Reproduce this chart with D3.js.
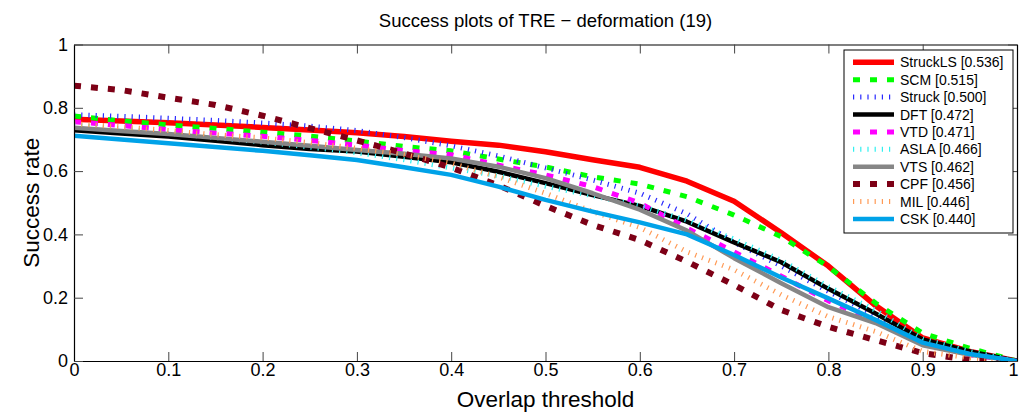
<!DOCTYPE html>
<html>
<head>
<meta charset="utf-8">
<script src="https://cdn.jsdelivr.net/npm/d3@7"></script>
<style>
  html, body { margin: 0; padding: 0; background: #fff; }
  svg { display: block; font-family: "Liberation Sans", Arial, Helvetica, sans-serif; }
</style>
</head>
<body>
<svg id="chart" width="1019" height="416"></svg>
<script>
// ---- data ----
const thresholds = [0, 0.05, 0.1, 0.15, 0.2, 0.25, 0.3, 0.35, 0.4, 0.45, 0.5, 0.55, 0.6, 0.65, 0.7, 0.75, 0.8, 0.85, 0.9, 0.95, 1];
const trackerNames = ["StruckLS [0.536]", "SCM [0.515]", "Struck [0.500]", "DFT [0.472]", "VTD [0.471]", "ASLA [0.466]", "VTS [0.462]", "CPF [0.456]", "MIL [0.446]", "CSK [0.440]"];
const structLS = [0.764, 0.758, 0.753, 0.746, 0.738, 0.730, 0.721, 0.709, 0.694, 0.682, 0.661, 0.636, 0.612, 0.568, 0.505, 0.405, 0.300, 0.175, 0.073, 0.030, 0];
const scm      = [0.774, 0.759, 0.746, 0.735, 0.723, 0.711, 0.695, 0.678, 0.664, 0.638, 0.613, 0.582, 0.559, 0.519, 0.461, 0.393, 0.298, 0.183, 0.088, 0.040, 0];
const struck   = [0.778, 0.773, 0.767, 0.760, 0.752, 0.742, 0.728, 0.706, 0.680, 0.648, 0.610, 0.572, 0.530, 0.465, 0.375, 0.300, 0.220, 0.145, 0.065, 0.025, 0];
const dft      = [0.729, 0.719, 0.709, 0.696, 0.682, 0.670, 0.662, 0.645, 0.628, 0.598, 0.562, 0.524, 0.490, 0.440, 0.375, 0.312, 0.228, 0.150, 0.068, 0.030, 0];
const vtd      = [0.756, 0.744, 0.731, 0.720, 0.710, 0.697, 0.682, 0.665, 0.652, 0.619, 0.588, 0.551, 0.499, 0.420, 0.345, 0.268, 0.190, 0.125, 0.055, 0.020, 0];
const asla     = [0.745, 0.733, 0.720, 0.706, 0.692, 0.676, 0.658, 0.636, 0.610, 0.585, 0.552, 0.522, 0.490, 0.445, 0.385, 0.318, 0.235, 0.160, 0.070, 0.030, 0];
const vts      = [0.737, 0.727, 0.717, 0.705, 0.693, 0.680, 0.667, 0.655, 0.640, 0.614, 0.578, 0.530, 0.478, 0.412, 0.325, 0.246, 0.170, 0.120, 0.050, 0.020, 0];
const cpf      = [0.870, 0.856, 0.832, 0.809, 0.775, 0.736, 0.697, 0.656, 0.611, 0.555, 0.490, 0.430, 0.382, 0.314, 0.240, 0.161, 0.108, 0.066, 0.025, 0.003, 0];
const mil      = [0.750, 0.740, 0.728, 0.715, 0.705, 0.690, 0.672, 0.652, 0.625, 0.582, 0.530, 0.472, 0.422, 0.345, 0.288, 0.209, 0.140, 0.093, 0.030, 0.010, 0];
const csk      = [0.712, 0.700, 0.688, 0.676, 0.664, 0.650, 0.635, 0.612, 0.588, 0.551, 0.509, 0.472, 0.438, 0.400, 0.335, 0.264, 0.198, 0.130, 0.058, 0.022, 0];
const seriesValues = [structLS, scm, struck, dft, vtd, asla, vts, cpf, mil, csk];
const xTicks = [0, 0.1, 0.2, 0.3, 0.4, 0.5, 0.6, 0.7, 0.8, 0.9, 1];
const yTicks = [0, 0.2, 0.4, 0.6, 0.8, 1];
const titleText = "Success plots of TRE \u2212 deformation (19)";
const xLabel = "Overlap threshold";
const yLabel = "Success rate";

// ---- styles ----
const styles = [
  { color: "#ff0000", width: 5.5, dash: null },
  { color: "#00ff00", width: 5,   dash: "7,10" },
  { color: "#2a2aff", width: 5,   dash: "1.2,6" },
  { color: "#000000", width: 4.5, dash: null },
  { color: "#ff00ff", width: 5,   dash: "7,10" },
  { color: "#30f0f0", width: 5,   dash: "1.2,6" },
  { color: "#868686", width: 4.5, dash: null },
  { color: "#7d0016", width: 6,   dash: "7,10" },
  { color: "#ff9a55", width: 5,   dash: "1.2,6" },
  { color: "#00a2e8", width: 4.5, dash: null }
];

(function () {
const svg = d3.select("#chart");
const pL = 74, pR = 1017, pT = 44.5, pB = 361;
const x = d3.scaleLinear().domain([0, 1]).range([pL, pR]);
const y = d3.scaleLinear().domain([0, 1]).range([pB, pT]);

const fmt = d => (d === 0 ? "0" : d === 1 ? "1" : d3.format(".1f")(d));

svg.append("clipPath").attr("id", "clip").append("rect")
  .attr("x", pL).attr("y", pT).attr("width", pR - pL).attr("height", pB - pT);

const line = d3.line().x((d, i) => x(thresholds[i])).y(d => y(d));
const g = svg.append("g").attr("clip-path", "url(#clip)");
seriesValues.forEach((vals, i) => {
  const s = styles[i];
  g.append("path")
    .attr("d", line(vals))
    .attr("fill", "none")
    .attr("stroke", s.color)
    .attr("stroke-width", s.width)
    .attr("stroke-dasharray", s.dash)
    .attr("stroke-linejoin", "round");
});

const tickLen = 9;
const axB = svg.append("g").attr("transform", `translate(0,${pB})`)
  .call(d3.axisBottom(x).tickValues(xTicks).tickFormat(fmt).tickSizeInner(-tickLen).tickSizeOuter(0).tickPadding(2));
const axT = svg.append("g").attr("transform", `translate(0,${pT})`)
  .call(d3.axisTop(x).tickValues(xTicks).tickFormat("").tickSizeInner(-tickLen).tickSizeOuter(0));
const axL = svg.append("g").attr("transform", `translate(${pL},0)`)
  .call(d3.axisLeft(y).tickValues(yTicks).tickFormat(fmt).tickSizeInner(-tickLen).tickSizeOuter(0).tickPadding(6));
const axR = svg.append("g").attr("transform", `translate(${pR},0)`)
  .call(d3.axisRight(y).tickValues(yTicks).tickFormat("").tickSizeInner(-tickLen).tickSizeOuter(0));

[axB, axT, axL, axR].forEach(a => {
  a.select(".domain").attr("stroke", "#000").attr("stroke-width", 1.2);
  a.selectAll(".tick line").attr("stroke", "#444").attr("stroke-width", 1);
  a.selectAll("text").attr("font-size", 18).attr("fill", "#000")
    .attr("font-family", "'Liberation Sans', Arial, Helvetica, sans-serif");
});
// keep the last x tick label inside the page
axB.selectAll(".tick text").filter(d => d === 1).attr("text-anchor", "end").attr("dx", "0.05em");

svg.append("text").attr("x", (pL + pR) / 2).attr("y", 27)
  .attr("text-anchor", "middle").attr("font-size", 18.5).text(titleText);
svg.append("text").attr("x", (pL + pR) / 2).attr("y", 407)
  .attr("text-anchor", "middle").attr("font-size", 22.5).text(xLabel);
svg.append("text").attr("transform", `translate(39,${(pT + pB) / 2}) rotate(-90)`)
  .attr("text-anchor", "middle").attr("font-size", 22.5).text(yLabel);

const lg = svg.append("g");
lg.append("rect").attr("x", 844).attr("y", 50).attr("width", 169).attr("height", 183)
  .attr("fill", "#fff").attr("stroke", "#000").attr("stroke-width", 1);
trackerNames.forEach((name, i) => {
  const ly = 62.3 + i * 17.4;
  const s = styles[i];
  lg.append("line").attr("x1", 853).attr("x2", 894).attr("y1", ly).attr("y2", ly)
    .attr("stroke", s.color).attr("stroke-width", s.width).attr("stroke-dasharray", s.dash);
  lg.append("text").attr("x", 900).attr("y", ly).attr("dy", "0.36em")
    .attr("font-size", 14).text(name);
});
})();
</script>
</body>
</html>
